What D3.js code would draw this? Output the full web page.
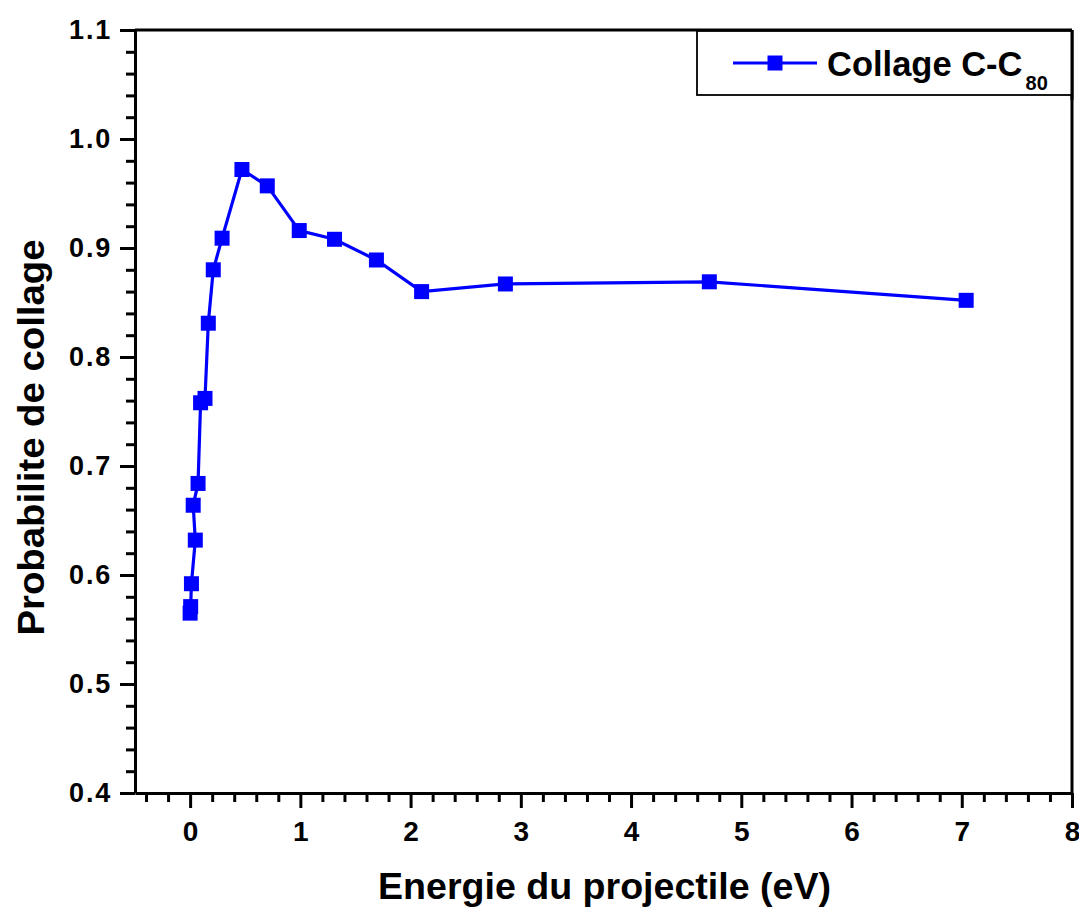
<!DOCTYPE html>
<html>
<head>
<meta charset="utf-8">
<script src="https://cdn.jsdelivr.net/npm/d3@7"></script>
<style>
  html, body { margin: 0; padding: 0; background: #fff; }
  svg { display: block; }
</style>
</head>
<body>
<svg id="chart" width="1079" height="910"></svg>
<script>
// ---- Data ----
const energy = [0.0, 0.005, 0.012, 0.047, 0.028, 0.072, 0.095, 0.135, 0.165, 0.21, 0.29, 0.47, 0.70, 0.99, 1.31, 1.69, 2.10, 2.86, 4.71, 7.04];
const probability = [0.565, 0.571, 0.592, 0.632, 0.664, 0.684, 0.758, 0.762, 0.831, 0.880, 0.909, 0.972, 0.957, 0.916, 0.908, 0.889, 0.860, 0.867, 0.869, 0.852];
const xTicks = [0, 1, 2, 3, 4, 5, 6, 7, 8];
const yTicks = [0.4, 0.5, 0.6, 0.7, 0.8, 0.9, 1.0, 1.1];
const seriesName = "Collage C-C";
const seriesSub = "80";
const xTitle = "Energie du projectile (eV)";
const yTitle = "Probabilite de collage";

const svg = d3.select("#chart");
const L = 135, R = 1072, T = 30, B = 793;
const x = d3.scaleLinear().domain([-0.5, 8]).range([L, R]);
const y = d3.scaleLinear().domain([0.4, 1.1]).range([B, T]);
const blue = "#0000ff";

// Minor ticks
const xMinor = d3.range(-0.4, 8.0001, 0.2).filter(v => Math.abs(v - Math.round(v)) > 1e-6);
const yMinor = d3.range(0.42, 1.1, 0.02).filter(v => Math.abs(v * 10 - Math.round(v * 10)) > 1e-6);

const axisStyle = g => {
  g.selectAll("path.domain").attr("stroke", "#000").attr("stroke-width", 3);
  g.selectAll(".tick line").attr("stroke", "#000").attr("stroke-width", 3);
};

// X axis minor
svg.append("g").attr("transform", `translate(0,${B})`)
  .call(d3.axisBottom(x).tickValues(xMinor).tickSize(9).tickFormat(""))
  .call(axisStyle).call(g => g.select(".domain").remove());
// X axis major
const gx = svg.append("g").attr("transform", `translate(0,${B})`)
  .call(d3.axisBottom(x).tickValues(xTicks).tickSize(15).tickSizeOuter(0).tickPadding(13).tickFormat(d3.format("d")))
  .call(axisStyle);
gx.selectAll("text").attr("font-family", "'Liberation Sans Narrow', 'Liberation Sans', Arial, sans-serif")
  .attr("font-weight", "bold").attr("font-size", 28).attr("fill", "#000");

// Y axis minor
svg.append("g").attr("transform", `translate(${L},0)`)
  .call(d3.axisLeft(y).tickValues(yMinor).tickSize(9).tickFormat(""))
  .call(axisStyle).call(g => g.select(".domain").remove());
// Y axis major
const gy = svg.append("g").attr("transform", `translate(${L},0)`)
  .call(d3.axisLeft(y).tickValues(yTicks).tickSize(15).tickSizeOuter(0).tickPadding(8).tickFormat(d3.format(".1f")))
  .call(axisStyle);
gy.selectAll("text").attr("font-family", "'Liberation Sans', Arial, sans-serif")
  .attr("font-weight", "bold").attr("font-size", 27).attr("letter-spacing", 1.8).attr("fill", "#000");

// Top and right frame
svg.append("line").attr("x1", L).attr("x2", R).attr("y1", T).attr("y2", T).attr("stroke", "#000").attr("stroke-width", 3);
svg.append("line").attr("x1", R).attr("x2", R).attr("y1", T).attr("y2", B).attr("stroke", "#000").attr("stroke-width", 3);

// Axis titles
svg.append("text").attr("x", (L + R) / 2 + 1).attr("y", 899)
  .attr("text-anchor", "middle")
  .attr("font-family", "'Liberation Sans Narrow', 'Liberation Sans', Arial, sans-serif")
  .attr("font-weight", "bold").attr("font-size", 36)
  .attr("textLength", 453).attr("lengthAdjust", "spacingAndGlyphs")
  .text(xTitle);
svg.append("text").attr("transform", `translate(44,${(T + B) / 2 + 26}) rotate(-90)`)
  .attr("text-anchor", "middle")
  .attr("font-family", "'Liberation Sans Narrow', 'Liberation Sans', Arial, sans-serif")
  .attr("font-weight", "bold").attr("font-size", 37)
  .attr("textLength", 396).attr("lengthAdjust", "spacingAndGlyphs")
  .text(yTitle);

// Series
const pts = energy.map((e, i) => [e, probability[i]]);
svg.append("path").datum(pts)
  .attr("fill", "none").attr("stroke", blue).attr("stroke-width", 3.2)
  .attr("d", d3.line().x(d => x(d[0])).y(d => y(d[1])));
const ms = 15;
svg.append("g").selectAll("rect").data(pts).join("rect")
  .attr("x", d => x(d[0]) - ms / 2).attr("y", d => y(d[1]) - ms / 2)
  .attr("width", ms).attr("height", ms).attr("fill", blue);

// Legend
const lg = svg.append("g");
lg.append("rect").attr("x", 697).attr("y", 31).attr("width", R - 697).attr("height", 64)
  .attr("fill", "#fff").attr("stroke", "#000").attr("stroke-width", 1.8);
svg.append("line").attr("x1", R).attr("x2", R).attr("y1", T).attr("y2", 100).attr("stroke", "#000").attr("stroke-width", 3);
lg.append("line").attr("x1", 733).attr("x2", 817).attr("y1", 63).attr("y2", 63).attr("stroke", blue).attr("stroke-width", 3.2);
lg.append("rect").attr("x", 775 - ms / 2).attr("y", 63 - ms / 2).attr("width", ms).attr("height", ms).attr("fill", blue);
const lt = lg.append("text").attr("x", 827).attr("y", 76)
  .attr("font-family", "'Liberation Sans', Arial, sans-serif")
  .attr("font-weight", "bold").attr("font-size", 34.5).attr("fill", "#000");
lt.append("tspan").text(seriesName);
lt.append("tspan").attr("font-size", 20).attr("dx", 3).attr("dy", 14).text(seriesSub);
</script>
</body>
</html>
